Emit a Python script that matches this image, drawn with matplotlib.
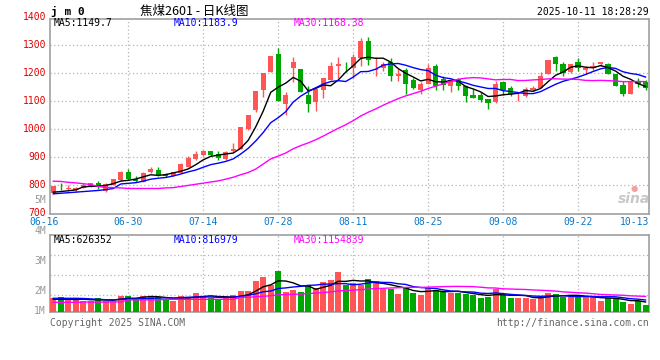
import matplotlib
matplotlib.use('Agg')
import matplotlib.pyplot as plt
import numpy as np
import pandas as pd

# daily candles 06-16 .. 10-13 (80 sessions)
opens = [774, 796, 786, 784, 792, 797, 808, 779, 801, 818,
         849, 824, 812, 848, 855, 841, 834, 845, 867, 894,
         909, 921, 913, 893, 921, 931, 1002, 1067, 1140, 1205,
         1269, 1090, 1217, 1214, 1121, 1098, 1140, 1176, 1226, 1233,
         1217, 1255, 1314, 1210, 1217, 1240, 1190, 1210, 1174, 1140,
         1162, 1226, 1179, 1155, 1179, 1152, 1121, 1121, 1107, 1095,
         1167, 1145, 1117, 1117, 1140, 1148, 1198, 1257, 1231, 1202,
         1240, 1212, 1217, 1233, 1233, 1195, 1157, 1126, 1171, 1167]
closes = [797, 793, 791, 789, 803, 808, 793, 806, 821, 849,
          821, 816, 845, 858, 838, 834, 847, 875, 899, 913,
          921, 908, 898, 919, 929, 1007, 1050, 1136, 1200, 1262,
          1100, 1121, 1238, 1133, 1090, 1143, 1183, 1224, 1233, 1231,
          1257, 1314, 1245, 1214, 1233, 1188, 1198, 1162, 1148, 1162,
          1217, 1155, 1157, 1176, 1152, 1119, 1112, 1105, 1093, 1162,
          1140, 1124, 1119, 1143, 1148, 1190, 1245, 1233, 1200, 1233,
          1217, 1219, 1224, 1238, 1198, 1155, 1126, 1171, 1162, 1145]
highs = [799, 809, 802, 796, 808, 810, 814, 807, 823, 852,
         857, 832, 847, 864, 864, 845, 849, 879, 905, 924,
         926, 924, 921, 921, 950, 1009, 1050, 1136, 1200, 1262,
         1290, 1131, 1257, 1214, 1152, 1143, 1183, 1238, 1257, 1240,
         1269, 1324, 1329, 1257, 1240, 1252, 1214, 1219, 1181, 1167,
         1233, 1231, 1188, 1179, 1183, 1157, 1143, 1133, 1107, 1171,
         1171, 1152, 1129, 1150, 1155, 1202, 1245, 1262, 1240, 1233,
         1255, 1224, 1240, 1240, 1236, 1198, 1171, 1171, 1181, 1174]
lows = [771, 784, 781, 777, 790, 795, 786, 776, 800, 816,
        818, 813, 811, 843, 835, 829, 832, 845, 867, 892,
        906, 905, 890, 892, 920, 930, 998, 1062, 1114, 1202,
        1100, 1050, 1167, 1131, 1062, 1064, 1112, 1176, 1183, 1202,
        1183, 1226, 1229, 1190, 1207, 1171, 1171, 1126, 1143, 1126,
        1162, 1140, 1140, 1133, 1140, 1095, 1110, 1098, 1071, 1093,
        1121, 1119, 1102, 1114, 1136, 1148, 1195, 1207, 1190, 1200,
        1207, 1195, 1210, 1224, 1195, 1152, 1117, 1124, 1150, 1138]
# volume, millions of lots
volumes = [0.85, 0.90, 0.77, 0.77, 0.73, 0.73, 0.87, 0.72, 0.72, 0.98,
           0.97, 0.87, 0.98, 0.90, 0.92, 0.78, 0.72, 0.98, 0.92, 1.12,
           0.97, 0.87, 0.82, 0.85, 1.02, 1.22, 1.22, 1.73, 1.93, 1.52,
           2.22, 1.17, 1.27, 1.17, 1.52, 1.37, 1.67, 1.77, 2.17, 1.50,
           1.63, 1.50, 1.82, 1.72, 1.30, 1.30, 1.07, 1.43, 1.10, 1.02,
           1.37, 1.27, 1.15, 1.13, 1.10, 1.07, 1.00, 0.87, 0.93, 1.30,
           1.03, 0.87, 0.87, 0.87, 0.82, 0.93, 1.13, 1.07, 0.93, 0.93,
           0.93, 0.93, 0.90, 0.72, 0.85, 0.85, 0.68, 0.57, 0.70, 0.52]

# moving-average values before the window is full
ma5_head = [776, 778, 781, 784]
ma10_head = [770, 772, 774, 776, 778, 780, 782, 785, 789]
ma30_head = [815, 814, 811, 809, 806, 803, 796, 793, 792, 791,
             789, 789, 789, 789, 789, 791, 792, 796, 800, 804,
             808, 812, 816, 822, 829, 838, 846, 858, 876]
vma5_head = [0.80, 0.80, 0.80, 0.79]
vma10_head = [0.85, 0.85, 0.85, 0.85, 0.84, 0.82, 0.80, 0.78, 0.77]
vma30_head = [0.65, 0.65, 0.65, 0.65, 0.66, 0.66, 0.66, 0.66, 0.67, 0.67,
              0.77, 0.77, 0.77, 0.77, 0.77, 0.80, 0.80, 0.80, 0.80, 0.80,
              0.80, 0.80, 0.80, 0.80, 0.80, 0.90, 0.90, 0.93, 0.95]

date_labels = ['06-16', '06-30', '07-14', '07-28', '08-11', '08-25', '09-08', '09-22', '10-13']
date_idx = [0, 10, 20, 30, 40, 50, 60, 70, 79]
price_ticks = [700, 800, 900, 1000, 1100, 1200, 1300, 1400]

UP = '#ff5555'
DOWN = '#00a600'
RED = '#e00000'
BLUE_TXT = '#0a78c8'
GRAY = '#999999'
GRID = '#b4b4b4'
MONO = 'DejaVu Sans Mono'
W, H = 660, 360


def moving_avg(values, n, head):
    s = pd.Series(values, dtype=float).rolling(n).mean().to_numpy()
    s[:n - 1] = head
    return s


def ftext(x, y, s, **kw):
    # place text at pixel position of the 660x360 canvas
    kw.setdefault('family', MONO)
    kw.setdefault('fontsize', 7)
    fig.text(x / W, 1 - y / H, s, **kw)


o = np.array(opens, float)
c = np.array(closes, float)
idx = np.arange(len(c))
cols = np.where(c >= o, UP, DOWN)

fig = plt.figure(figsize=(6.6, 3.6), dpi=100)
ax = fig.add_axes([50.3 / W, 1 - 213.5 / H, 599 / W, 194.5 / H])
ax2 = fig.add_axes([50.3 / W, 1 - 311.7 / H, 599 / W, 76.7 / H])

for a in (ax, ax2):
    for sp in a.spines.values():
        sp.set_color('#a0a0a0')
        sp.set_linewidth(1.2)
    a.tick_params(length=0, labelbottom=False, labelleft=False)
    a.set_xlim(-0.4, 79.5)
    a.set_xticks(date_idx[1:-1])
    a.grid(True, color=GRID, linestyle=(0, (1, 2)), linewidth=0.9)
    a.set_axisbelow(True)

# price panel
ax.set_ylim(700, 1392)
ax.set_yticks(price_ticks[1:-1])
ax.vlines(idx, lows, highs, colors=cols, linewidth=1, zorder=2)
ax.bar(idx, np.maximum(np.abs(c - o), 2.5), 0.7, bottom=np.minimum(o, c),
       color=cols, linewidth=0, zorder=3)
ax.plot(idx, moving_avg(closes, 5, ma5_head), color='black', lw=1, zorder=4)
ax.plot(idx, moving_avg(closes, 10, ma10_head), color='#0000ff', lw=1, zorder=4)
ax.plot(idx, moving_avg(closes, 30, ma30_head), color='#ff00ff', lw=1, zorder=4)

for v in price_ticks:
    ax.text(-0.007, v, str(v), transform=ax.get_yaxis_transform(), ha='right',
            va='center', color=RED, fontsize=7, family=MONO, clip_on=False)
for i, lab in zip(date_idx[1:-1], date_labels[1:-1]):
    ax.text(i, -0.042, lab, transform=ax.get_xaxis_transform(), ha='center',
            va='center', color=BLUE_TXT, fontsize=7, family=MONO, clip_on=False)
ftext(44, 221.7, date_labels[0], ha='center', va='center', color=BLUE_TXT)
ftext(649, 221.7, date_labels[-1], ha='right', va='center', color=BLUE_TXT)

# volume panel
v = np.array(volumes)
ax2.set_ylim(0.18, 4.015)
ax2.set_yticks([1, 2, 3])
ax2.bar(idx, v, 0.8, color=cols, linewidth=0, zorder=3)
ax2.plot(idx, moving_avg(volumes, 5, vma5_head), color='black', lw=1, zorder=4)
ax2.plot(idx, moving_avg(volumes, 10, vma10_head), color='#0000ff', lw=1, zorder=4)
ax2.plot(idx, moving_avg(volumes, 30, vma30_head), color='#ff00ff', lw=1, zorder=4)

# headers and legends
ftext(51, 11, 'j m 0', fontsize=8, fontweight='bold', va='center')
ftext(140, 11, '焦煤2601 - 日K线图', family=['Noto Sans CJK SC', 'DejaVu Sans'],
      fontsize=9, va='center')
ftext(649, 12, '2025-10-11 18:28:29', ha='right', va='center')

ftext(54, 23.5, 'MA5:1149.7', va='center', color='black')
ftext(174, 23.5, 'MA10:1183.9', va='center', color='#0000ff')
ftext(294, 23.5, 'MA30:1168.38', va='center', color='#ff00ff')
ftext(54, 240, 'MA5:626352', va='center', color='black')
ftext(174, 240, 'MA10:816979', va='center', color='#0000ff')
ftext(294, 240, 'MA30:1154839', va='center', color='#ff00ff')

for lab, y in [('5M', 200), ('4M', 231), ('3M', 260.7), ('2M', 290.7), ('1M', 310.7)]:
    ftext(46, y, lab, ha='right', va='center', color=GRAY)

ftext(50, 323, 'Copyright 2025 SINA.COM', va='center', color='#666666')
ftext(649, 323, 'http://finance.sina.com.cn', ha='right', va='center', color='#666666')
ftext(634, 199, 'sina', family='DejaVu Sans', fontsize=10, fontweight='bold',
      style='italic', ha='center', va='center', color='#c8c8c8')
ftext(634, 188, '●', family='DejaVu Sans', fontsize=6, ha='center', va='center',
      color='#f4a0a0')

fig.savefig('out.png', dpi=100, facecolor='white')
